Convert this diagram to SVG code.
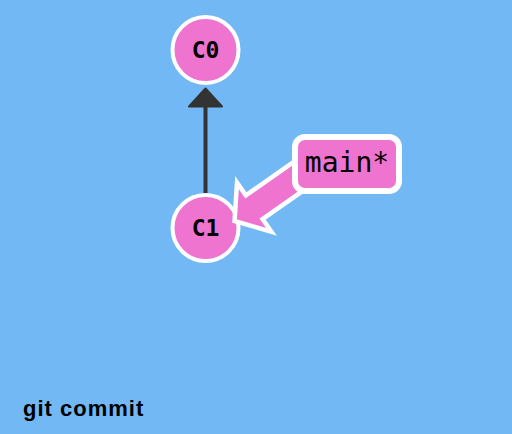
<svg xmlns="http://www.w3.org/2000/svg" width="512" height="434" viewBox="0 0 512 434">
<style>
.commit circle { fill: #ee74cf; stroke: #ffffff; stroke-width: 4; }
.commit text { font-family: "DejaVu Sans Mono", "Liberation Mono", monospace; font-weight: bold; font-size: 23px; fill: #000; text-anchor: middle; }
.branch rect { fill: #ee74cf; stroke: #ffffff; stroke-width: 6; }
.branch text { font-family: "DejaVu Sans Mono", "Liberation Mono", monospace; font-size: 28px; fill: #000; text-anchor: middle; }
.branch-arrow { fill: #ee74cf; stroke: #ffffff; stroke-width: 4.5; stroke-linejoin: miter; }
.edge { stroke: #333333; stroke-width: 4; fill: none; }
.edge-head { fill: #333333; stroke: #333333; stroke-width: 2; stroke-linejoin: round; }
.caption { font-family: "Liberation Sans", Arial, sans-serif; font-weight: bold; font-size: 22px; fill: #000; letter-spacing: 1px; }
</style>
<rect x="0" y="0" width="512" height="434" fill="#71b8f5"/>
<g id="connectors">
  <line class="edge" x1="205.5" y1="196" x2="205.5" y2="104"/>
  <polygon class="edge-head" points="205.5,88.5 189,106.5 222,106.5"/>
</g>
<g id="C0" class="commit">
  <circle cx="205.5" cy="50" r="33"/>
  <text x="205.5" y="58">C0</text>
</g>
<g id="C1" class="commit">
  <circle cx="205.5" cy="228" r="33"/>
  <text x="205.5" y="236">C1</text>
</g>
<g id="main" class="branch">
  <polygon class="branch-arrow" transform="translate(231.7,223) rotate(-35)" points="3.5,0 27.5,-30 27.5,-14.5 95,-14.5 95,14.5 27.5,14.5 27.5,30"/>
  <rect x="295" y="137" width="104" height="54" rx="10" ry="10"/>
  <text x="347" y="172">main*</text>
</g>
<text class="caption" x="23" y="416">git commit</text>
</svg>
